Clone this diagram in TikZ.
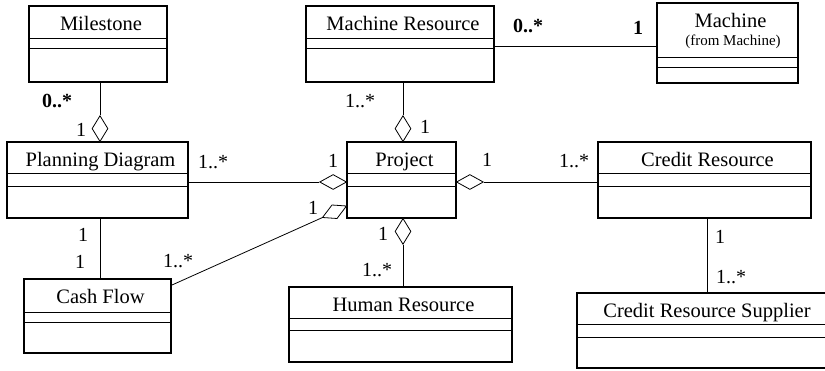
\documentclass[tikz,border=0pt]{standalone}
\usepackage{fontspec}
\setmainfont{Liberation Serif}
\usetikzlibrary{shapes.geometric,fit}

\tikzset{
  clsbox/.style={draw, line width=1.3pt, inner sep=0pt, fit={#1}},
  divider/.style={line width=1pt},
  classname/.style={anchor=base, inner sep=0pt, font=\fontsize{20.5}{24}\selectfont},
  pkgname/.style={anchor=base, inner sep=0pt, font=\fontsize{15}{18}\selectfont},
  mult/.style={inner sep=0pt, font=\fontsize{20}{24}\selectfont},
  multb/.style={mult, font=\fontsize{20}{24}\selectfont\bfseries},
  assoc/.style={line width=0.8pt},
  aggv/.style={diamond, draw, line width=0.8pt, fill=white, inner sep=0pt,
               minimum width=16pt, minimum height=26pt},
  aggh/.style={diamond, draw, line width=0.8pt, fill=white, inner sep=0pt,
               minimum width=27pt, minimum height=15pt},
}

% class box: name, x1, y1, x2, y2, first divider, second divider, class name
\newcommand\umlclass[8]{%
  \node[clsbox={(#2,#3) (#4,#5)}] (#1) {};
  \draw[divider] (#2,#6) -- (#4,#6);
  \draw[divider] (#2,#7) -- (#4,#7);
  \path (#1.north) ++(3,25.5) node[classname] (#1-name) {#8};
}

\begin{document}
\begin{tikzpicture}[x=1pt, y=-1pt]
\useasboundingbox (0,0) rectangle (825,370);
\clip (0,0) rectangle (825,370);

% classes
\umlclass{ms}{29}{6}{167}{82}{38}{48}{Milestone}
\umlclass{mr}{306}{6}{494}{82}{38}{48}{Machine Resource}
\umlclass{mc}{657}{3}{798}{83}{57}{67}{Machine}
\node[pkgname] (mc-pkg) at (733,45.5) {(from Machine)};
\umlclass{pd}{7}{142}{188}{218}{173}{186}{Planning Diagram}
\umlclass{pj}{347}{142}{456}{218}{173}{186}{Project}
\umlclass{cr}{598}{142}{811}{218}{173}{186}{Credit Resource}
\umlclass{cf}{24}{279}{171}{353}{312}{322}{Cash Flow}
\umlclass{hr}{289}{287}{512}{362}{318}{330}{Human Resource}
\umlclass{crs}{577}{293}{831}{368}{324}{337}{Credit Resource Supplier}

% aggregation diamonds
\node[aggv, anchor=south] (dmp) at (100,142) {};
\node[aggv, anchor=south] (dpt) at (403,142) {};
\node[aggv, anchor=north] (dph) at (403,218) {};
\node[aggh, anchor=east]  (dpl) at (347,182) {};
\node[aggh, anchor=west]  (dpr) at (456,182) {};
\coordinate (cfa) at (322.5,217.5);
\coordinate (cfb) at (332,205);
\coordinate (cfc) at (346.5,206);
\coordinate (cfd) at (337,218.5);
\coordinate (cfend) at (172,285);
\coordinate (crsx) at (707,0);

% associations
\draw[assoc] (ms.south -| dmp.north) -- (dmp.north);
\draw[assoc] (mr.south -| dpt.north) -- (dpt.north);
\draw[assoc] ([yshift=-2pt]mr.east) -- ([yshift=-2pt]mr.east -| mc.west);
\draw[assoc] (pd.east |- dpl.west) -- (dpl.west);
\draw[assoc] (dpr.east) -- (dpr.east -| cr.west);
\draw[assoc] (dph.south) -- (dph.south |- hr.north);
\draw[assoc] (cr.south -| crsx) -- (crs.north -| crsx);
\draw[assoc] ([xshift=2.5pt]pd.south) -- ([xshift=2.5pt]pd.south |- cf.north);
\draw[assoc] (cfend) -- (cfa);
\draw[assoc, fill=white] (cfa) -- (cfb) -- (cfc) -- (cfd) -- cycle;

% multiplicities
\node[multb] (m1) at (57,101) {0..*};
\node[mult]  (m2) at (81,130) {1};
\node[mult]  (m3) at (360,101) {1..*};
\node[mult]  (m4) at (425,127) {1};
\node[multb] (m5) at (528,26) {0..*};
\node[multb] (m6) at (638,28) {1};
\node[mult]  (m7) at (213,162) {1..*};
\node[mult]  (m8) at (333,161) {1};
\node[mult]  (m9) at (313,208) {1};
\node[mult]  (m10) at (178,261) {1..*};
\node[mult]  (m11) at (83,235) {1};
\node[mult]  (m12) at (80,262) {1};
\node[mult]  (m13) at (487,160) {1};
\node[mult]  (m14) at (574,161) {1..*};
\node[mult]  (m15) at (383,234) {1};
\node[mult]  (m16) at (377,270) {1..*};
\node[mult]  (m17) at (720,237) {1};
\node[mult]  (m18) at (731,277) {1..*};
\end{tikzpicture}
\end{document}
